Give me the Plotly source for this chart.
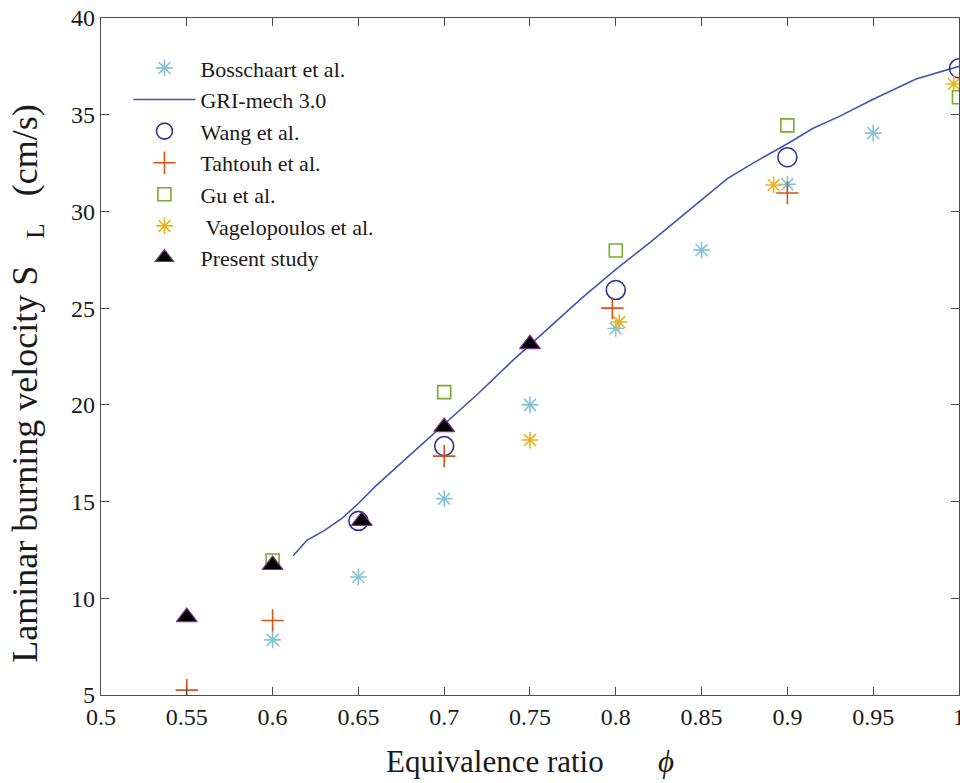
import plotly.graph_objects as go

# ---- data ----
boss_x = [0.60, 0.65, 0.70, 0.75, 0.80, 0.85, 0.90, 0.95]
boss_y = [7.85, 11.1, 15.15, 20.0, 23.95, 28.0, 31.4, 34.05]

gri_x = [0.612, 0.62, 0.63, 0.64, 0.65, 0.66, 0.67, 0.68, 0.69, 0.70, 0.72, 0.74, 0.75,
         0.76, 0.78, 0.80, 0.82, 0.85, 0.865, 0.88, 0.90, 0.915, 0.93, 0.95, 0.975, 1.0]
gri_y = [12.2, 13.0, 13.5, 14.1, 14.9, 15.8, 16.6, 17.4, 18.2, 19.0, 20.6, 22.3, 23.1,
         23.9, 25.5, 27.0, 28.4, 30.6, 31.7, 32.5, 33.5, 34.3, 34.9, 35.8, 36.85, 37.5]

wang_x = [0.65, 0.70, 0.80, 0.90, 1.00]
wang_y = [14.0, 17.87, 25.94, 32.8, 37.4]

taht_x = [0.55, 0.60, 0.70, 0.798, 0.90]
taht_y = [5.25, 8.85, 17.35, 25.0, 30.95]

gu_x = [0.60, 0.70, 0.80, 0.90, 1.00]
gu_y = [11.95, 20.66, 27.98, 34.45, 35.9]

vage_x = [0.75, 0.802, 0.892, 0.997]
vage_y = [18.18, 24.28, 31.37, 36.59]

pres_x = [0.55, 0.60, 0.652, 0.70, 0.75]
pres_y = [9.03, 11.72, 14.0, 18.85, 23.14]

x_ticks = [0.5, 0.55, 0.6, 0.65, 0.7, 0.75, 0.8, 0.85, 0.9, 0.95, 1.0]
x_ticklabels = ["0.5", "0.55", "0.6", "0.65", "0.7", "0.75", "0.8", "0.85", "0.9", "0.95", "1"]
y_ticks = [5, 10, 15, 20, 25, 30, 35, 40]

FONT = "Liberation Serif"
C_BOSS = "#86C3D8"
C_GRI = "#3F55B2"
C_WANG = "#2E3192"
C_TAHT = "#D95319"
C_GU = "#77AC30"
C_VAGE = "#EDB120"

fig = go.Figure()
fig.add_trace(go.Scatter(x=boss_x, y=boss_y, mode="markers", name="Bosschaart et al.",
                         legendgroup="a",
                         marker=dict(symbol="asterisk-open", size=14, color=C_BOSS,
                                     line=dict(color=C_BOSS, width=1.6))))
fig.add_trace(go.Scatter(x=gri_x, y=gri_y, mode="lines", name="GRI-mech 3.0",
                         legendgroup="b",
                         line=dict(color=C_GRI, width=1.6)))
fig.add_trace(go.Scatter(x=wang_x, y=wang_y, mode="markers", name="Wang et al.",
                         legendgroup="c",
                         marker=dict(symbol="circle-open", size=19, color=C_WANG,
                                     line=dict(color=C_WANG, width=1.6))))
fig.add_trace(go.Scatter(x=taht_x, y=taht_y, mode="markers", name="Tahtouh et al.",
                         legendgroup="d",
                         marker=dict(symbol="cross-thin-open", size=16, color=C_TAHT,
                                     line=dict(color=C_TAHT, width=1.6))))
fig.add_trace(go.Scatter(x=gu_x, y=gu_y, mode="markers", name="Gu et al.",
                         legendgroup="e",
                         marker=dict(symbol="square-open", size=13, color=C_GU,
                                     line=dict(color=C_GU, width=1.6))))
fig.add_trace(go.Scatter(x=vage_x, y=vage_y, mode="markers", name=" Vagelopoulos et al.",
                         legendgroup="f",
                         marker=dict(symbol="asterisk-open", size=14, color=C_VAGE,
                                     line=dict(color=C_VAGE, width=1.6))))
fig.add_trace(go.Scatter(x=pres_x, y=pres_y, mode="markers", name="Present study",
                         legendgroup="g",
                         marker=dict(symbol="triangle-up", size=18, color="black",
                                     line=dict(color="#7E2F8E", width=1.2))))

axis_common = dict(
    showgrid=False, zeroline=False, showline=True, linecolor="#4d4d4d", linewidth=1.3,
    mirror="ticks", ticks="inside", ticklen=8, tickwidth=1.3, tickcolor="#4d4d4d",
    tickfont=dict(family=FONT, size=24, color="#1a1a1a"),
    ticklabeloverflow="allow", automargin=False,
)

NB = "&nbsp;"
fig.update_layout(
    width=960, height=783,
    margin=dict(l=101, r=1, t=18, b=88),
    paper_bgcolor="white", plot_bgcolor="white",
    font=dict(family=FONT, color="#1a1a1a"),
    xaxis=dict(range=[0.5, 1.00001], tickvals=x_ticks, ticktext=x_ticklabels,
               title=dict(text="Equivalence ratio" + NB * 7 + "<i>\u03d5</i>",
                          font=dict(family=FONT, size=31), standoff=21),
               **axis_common),
    yaxis=dict(range=[5, 40], tickvals=y_ticks,
               title=dict(text="Laminar burning velocity S" + NB * 3 + "<sub>L</sub>" + NB * 3
                               + "(cm/s)" + NB * 6,
                          font=dict(family=FONT, size=36), standoff=22),
               **axis_common),
    legend=dict(x=0.032, y=0.957, xanchor="left", yanchor="top",
                bgcolor="rgba(0,0,0,0)", borderwidth=0,
                font=dict(family=FONT, size=22, color="#1a1a1a"),
                itemwidth=62, tracegroupgap=0, traceorder="grouped"),
)

fig.write_html("out.html")
